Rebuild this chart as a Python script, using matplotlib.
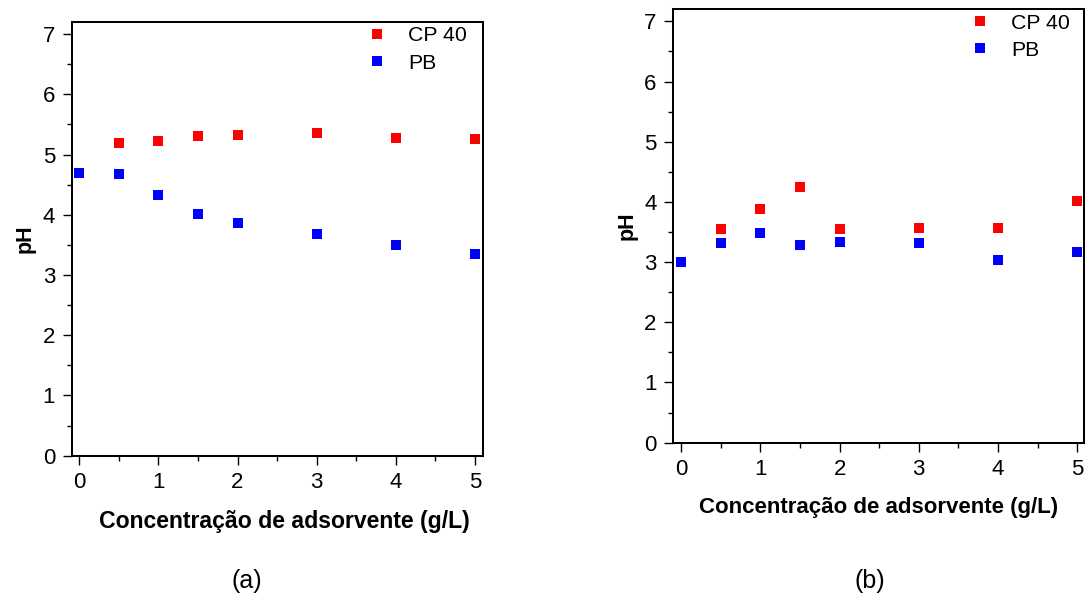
import matplotlib
matplotlib.use("Agg")
import matplotlib.pyplot as plt
from matplotlib.ticker import MultipleLocator

plt.rcParams['font.family'] = ['Liberation Sans', 'DejaVu Sans']

# data
conc = [0, 0.5, 1, 1.5, 2, 3, 4, 5]

# panel (a)
cp40_a = [4.70, 5.19, 5.23, 5.30, 5.33, 5.35, 5.28, 5.25]
pb_a = [4.70, 4.67, 4.32, 4.02, 3.86, 3.68, 3.50, 3.35]

# panel (b)
cp40_b = [3.00, 3.55, 3.88, 4.25, 3.55, 3.57, 3.57, 4.02]
pb_b = [3.00, 3.31, 3.48, 3.28, 3.33, 3.31, 3.04, 3.17]

series_labels = ["CP 40", "PB"]
panel_labels = ["(a)", "(b)"]
xlabel = "Concentração de adsorvente (g/L)"
ylabel = "pH"

fig = plt.figure(figsize=(10.86, 5.97), dpi=100)

ax_a = fig.add_axes([0.0660, 0.2367, 0.3790, 0.7264])
ax_b = fig.add_axes([0.6200, 0.2585, 0.3784, 0.7259])

def style_axis(ax, xlim, xlab_size, xlab_x):
    ax.set_xlim(*xlim)
    ax.set_ylim(0, 7.2)
    ax.xaxis.set_major_locator(MultipleLocator(1))
    ax.xaxis.set_minor_locator(MultipleLocator(0.5))
    ax.yaxis.set_major_locator(MultipleLocator(1))
    ax.yaxis.set_minor_locator(MultipleLocator(0.5))
    ax.tick_params(which='both', direction='out', top=False, right=False,
                   width=1.0, labelsize=16, pad=5.5)
    ax.tick_params(which='major', length=6.5)
    ax.tick_params(which='minor', length=3.6)
    for s in ax.spines.values():
        s.set_linewidth(1.45)
    ax.set_xlabel(xlabel, fontsize=xlab_size, fontweight='bold', labelpad=12)
    ax.xaxis.label.set_x(xlab_x)
    ax.set_ylabel(ylabel, fontsize=15.5, fontweight='bold', labelpad=5)

# (axes, cp40, pb, xlim, legend anchor, xlabel size, xlabel x)
panels = [(ax_a, cp40_a, pb_a, (-0.095, 5.105), (0.716, 0.99), 16.6, 0.516),
          (ax_b, cp40_b, pb_b, (-0.10, 5.09), (0.7205, 0.99), 16, 0.5)]

for ax, cp, pb, xl, anchor, xs, xx in panels:
    ax.plot(conc, cp, 's', color='#ff0000', ms=6.8, mew=0, label=series_labels[0])
    ax.plot(conc, pb, 's', color='#0000ff', ms=6.8, mew=0, label=series_labels[1])
    style_axis(ax, xl, xs, xx)
    ax.legend(loc='upper left', frameon=False, fontsize=15.3, handlelength=1.0,
              handletextpad=0.96, labelspacing=0.39, borderaxespad=0,
              borderpad=0, bbox_to_anchor=anchor)

fig.text(0.2275, 0.026, panel_labels[0], fontsize=18, ha='center', va='center')
fig.text(0.8010, 0.026, panel_labels[1], fontsize=18, ha='center', va='center')

fig.savefig("out.png", dpi=100)
